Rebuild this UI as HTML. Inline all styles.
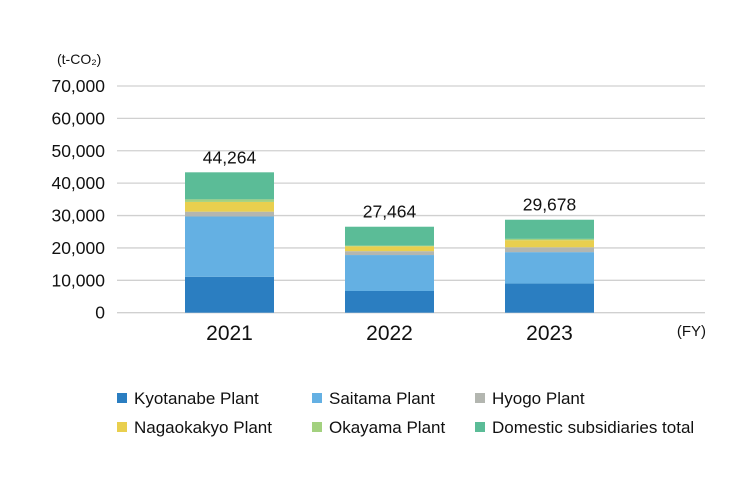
<!DOCTYPE html>
<html><head><meta charset="utf-8"><style>
body{margin:0;background:#fff;font-family:"Liberation Sans",sans-serif;}
svg text{font-family:"Liberation Sans",sans-serif;fill:#111;}
</style></head><body>
<svg width="740" height="490" id="c">
<text x="57" y="64" font-size="14">(t-CO₂)</text>
<text x="706" y="336" font-size="15" text-anchor="end">(FY)</text>
<g id="grid"></g><g id="bars"></g><g id="legend"></g>
</svg>
<script>
const categories=["2021","2022","2023"];
const totals=[44264,27464,29678];
const seriesNames=["Kyotanabe Plant","Saitama Plant","Hyogo Plant","Nagaokakyo Plant","Okayama Plant","Domestic subsidiaries total"];
const kyotanabe=[11100,6700,9000];
const saitama=[18600,11100,9700];
const hyogo=[1500,1200,1500];
const nagaokakyo=[3000,1500,2200];
const okayama=[800,200,400];
const domestic=[8350,5850,5910];
const yTicks=[0,10000,20000,30000,40000,50000,60000,70000];
const colors=["#2b7ec1","#64b0e3","#b3b6b0","#e9cf4e","#a3d17f","#5bbc97"];
const series=[kyotanabe,saitama,hyogo,nagaokakyo,okayama,domestic];
const NS="http://www.w3.org/2000/svg";
const y=v=>312.7-v*(226.7/70000);
const xc=i=>229.5+i*160;
function mk(t,a,p){const e=document.createElementNS(NS,t);for(const k in a)e.setAttribute(k,a[k]);p.appendChild(e);return e;}
const grid=document.getElementById('grid');
yTicks.forEach(t=>{
 const l=mk('line',{x1:117,x2:705,y1:y(t),y2:y(t),stroke:'#d0d0d0','stroke-width':1.3},grid);
 
 
 const tx=mk('text',{x:105,y:y(t)+6,'font-size':17.5,'text-anchor':'end'},grid);
 tx.textContent=t.toLocaleString('en-US');
 
 
});
const bars=document.getElementById('bars');
categories.forEach((c,i)=>{
 let acc=0;
 series.forEach((s,j)=>{
  const r=mk('rect',{x:xc(i)-44.5,width:89,y:y(acc+s[i]),height:y(acc)-y(acc+s[i]),fill:colors[j]},bars);
  
  
  acc+=s[i];
 });
 const tv=mk('text',{x:xc(i),y:y(acc)-9,'font-size':17.5,'text-anchor':'middle'},bars);
 tv.textContent=totals[i].toLocaleString('en-US');
 
 
 const tl=mk('text',{x:xc(i),y:340,'font-size':21,'text-anchor':'middle'},bars);
 tl.textContent=c;
 
 
});
const lg=document.getElementById('legend');
const lx=[117,312,475],ly=[398,427];
seriesNames.forEach((n,j)=>{
 const gx=lx[j%3],gy=ly[Math.floor(j/3)];
 const g=mk('g',{},lg);
 
 
 mk('rect',{x:gx,y:gy-5,width:10,height:10,fill:colors[j]},g);
 const t=mk('text',{x:gx+17,y:gy+6,'font-size':17},g);
 t.textContent=n;
});
</script>
</body></html>
